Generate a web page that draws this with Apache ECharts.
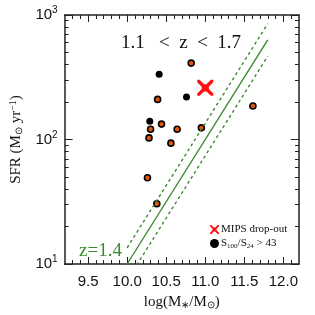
<!DOCTYPE html>
<html><head><meta charset="utf-8">
<script src="https://cdn.jsdelivr.net/npm/echarts@6/dist/echarts.min.js"></script>
<style>html,body{margin:0;padding:0;background:#fff}#c{width:315px;height:315px}</style>
</head><body><div id="c"></div>
<script>
// Data (log stellar mass, SFR in Msun/yr)
const orangeMass = [10.82, 10.39, 10.44, 10.30, 10.64, 10.95, 10.28, 10.56, 10.26, 10.38, 11.61];
const orangeSFR  = [411, 210, 133, 121, 121, 124, 103, 93.5, 49.3, 30.5, 186];
const blackMass  = [10.41, 10.76, 10.29];
const blackSFR   = [334, 219, 140];
const mipsMass   = [11.0];
const mipsSFR    = [260];
// main sequence at z=1.4 and its scatter
const msMass     = [10.0, 11.8];
const msSFR      = [10, 631];
const msUpperSFR = [13.5, 852];
const msLowerSFR = [7.4, 467];
// ticks
const xMajor = [9.5, 10.0, 10.5, 11.0, 11.5, 12.0];
const xMinor = [9.3, 9.4, 9.6, 9.7, 9.8, 9.9, 10.1, 10.2, 10.3, 10.4, 10.6, 10.7, 10.8, 10.9, 11.1, 11.2, 11.3, 11.4, 11.6, 11.7, 11.8, 11.9, 12.1];
const yMajor = [10, 100, 1000];
const yMinor = [20, 30, 40, 50, 60, 70, 80, 90, 200, 300, 400, 500, 600, 700, 800, 900];

const L = v => Math.log10(v);
const pts = (xs, ys) => xs.map((x, i) => [x, L(ys[i])]);
const GREEN = '#3b8a2f';
const AX = '#222';
const serif = 'Liberation Serif';

function xAx(pos, vals, len, line, labels) {
  return {
    type: 'value', min: 9.2, max: 12.2, position: pos,
    axisLine: {show: line, onZero: false, lineStyle: {color: AX, width: 1.5}},
    axisTick: {show: true, inside: true, length: len, customValues: vals, lineStyle: {color: AX, width: 1}},
    axisLabel: labels ? {show: true, customValues: xMajor, formatter: v => Number(v).toFixed(1), margin: 10,
      fontFamily: 'Liberation Sans', fontSize: 15, color: '#111'} : {show: false},
    splitLine: {show: false}
  };
}
function yAx(pos, vals, len, line, labels) {
  return {
    type: 'value', min: 1, max: 3, position: pos,
    axisLine: {show: line, onZero: false, lineStyle: {color: AX, width: 1.5}},
    axisTick: {show: true, inside: true, length: len, customValues: vals.map(L), lineStyle: {color: AX, width: 1}},
    axisLabel: labels ? {show: true, customValues: yMajor.map(L), margin: 7,
      formatter: v => '{b|10}{s|' + Math.round(v) + '}',
      rich: {b: {fontFamily: 'Liberation Sans', fontSize: 15, color: '#111'},
             s: {fontFamily: 'Liberation Sans', fontSize: 10, color: '#111', padding: [0, 0, 9, 0]}}} : {show: false},
    splitLine: {show: false}
  };
}

const xAxis = [xAx('bottom', xMajor, 7, true, true), xAx('bottom', xMinor, 4, false, false),
               xAx('top', xMajor, 7, true, false), xAx('top', xMinor, 4, false, false)];
xAxis[0].name = 'log(M{sub|∗}/M{sub|⊙})';
xAxis[0].nameLocation = 'middle';
xAxis[0].nameGap = 30;
xAxis[0].nameTextStyle = {fontFamily: serif, fontSize: 15, color: '#111',
  rich: {sub: {fontFamily: serif, fontSize: 10, color: '#111', padding: [6, 0, 0, 0]}}};

const yAxis = [yAx('left', yMajor, 8, true, true), yAx('left', yMinor, 4, false, false),
               yAx('right', yMajor, 8, true, false), yAx('right', yMinor, 4, false, false)];
yAxis[0].name = 'SFR (M{sub|⊙} yr{sup|−1})';
yAxis[0].nameLocation = 'middle';
yAxis[0].nameGap = 34;
yAxis[0].nameTextStyle = {fontFamily: serif, fontSize: 15, color: '#111',
  rich: {sub: {fontFamily: serif, fontSize: 10, color: '#111', padding: [6, 0, 0, 0]},
         sup: {fontFamily: serif, fontSize: 10, color: '#111', padding: [0, 0, 7, 0]}}};

const XPATH = 'path://M0,0L3,0L8.5,5.5L11.5,5.5L17,0L20,0L20,3L14.5,8.5L14.5,11.5L20,17L20,20L17,20' +
              'L11.5,14.5L8.5,14.5L3,20L0,20L0,17L5.5,11.5L5.5,8.5L0,3Z';

const chart = echarts.init(document.getElementById('c'), null, {renderer: 'canvas'});
chart.setOption({
  animation: false,
  backgroundColor: '#fff',
  grid: {left: 63, right: 16, top: 15, bottom: 48, containLabel: false},
  title: {text: '1.1   <  z  <  1.7', left: 116, top: 29,
    textStyle: {fontFamily: serif, fontSize: 19, fontWeight: 'normal', color: '#111'}},
  graphic: [{type: 'text', left: 79, top: 242,
    style: {text: 'z=1.4', fontFamily: serif, fontSize: 19, fill: GREEN}}],
  legend: {
    orient: 'vertical', left: 205, top: 219, itemWidth: 9, itemHeight: 9, itemGap: 3,
    data: [{name: 'MIPS drop-out', icon: XPATH, itemStyle: {color: '#ff1010', opacity: 1}},
           {name: 'S100/S24 > 43', icon: 'circle', itemStyle: {color: '#000', opacity: 1}}],
    formatter: n => n === 'S100/S24 > 43' ? 'S{sub|100}/S{sub|24} > 43' : n,
    textStyle: {fontFamily: serif, fontSize: 11, color: '#111', padding: [0, 0, 0, -3],
      rich: {sub: {fontFamily: serif, fontSize: 7, color: '#111', padding: [5, 0, 0, 0]}}}
  },
  xAxis: xAxis,
  yAxis: yAxis,
  series: [
    {type: 'line', data: pts(msMass, msSFR), symbol: 'none', silent: true, clip: true,
     lineStyle: {color: GREEN, width: 1.4}},
    {type: 'line', data: pts(msMass, msUpperSFR), symbol: 'none', silent: true, clip: true,
     lineStyle: {color: GREEN, width: 1.4, type: [3, 3]}},
    {type: 'line', data: pts(msMass, msLowerSFR), symbol: 'none', silent: true, clip: true,
     lineStyle: {color: GREEN, width: 1.4, type: [3, 3]}},
    {type: 'scatter', name: 'others', data: pts(orangeMass, orangeSFR), symbol: 'circle', symbolSize: 6,
     itemStyle: {color: '#e0560a', borderColor: '#000', borderWidth: 1.6, opacity: 1}},
    {type: 'scatter', name: 'S100/S24 > 43', data: pts(blackMass, blackSFR), symbol: 'circle', symbolSize: 7,
     itemStyle: {color: '#000', opacity: 1}},
    {type: 'scatter', name: 'MIPS drop-out', data: pts(mipsMass, mipsSFR), symbol: XPATH, symbolSize: 16,
     itemStyle: {color: '#ff1010', opacity: 1}}
  ]
});
</script>
</body></html>
